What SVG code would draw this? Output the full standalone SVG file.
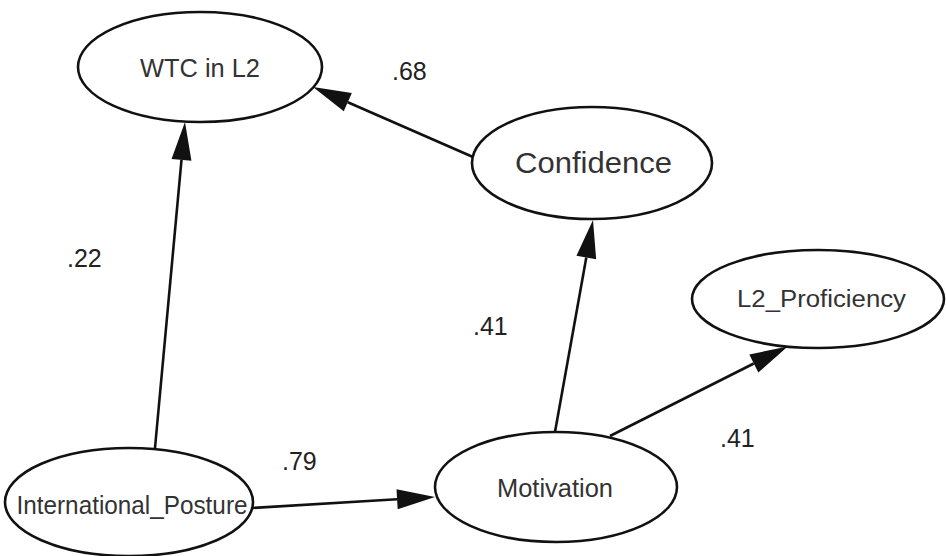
<svg xmlns="http://www.w3.org/2000/svg" width="946" height="556" viewBox="0 0 946 556">
  <style>
    .node ellipse { fill: #ffffff; stroke: #111111; stroke-width: 2.6; }
    .node text { font-family: "Liberation Sans", Arial, sans-serif; fill: #333333; text-anchor: middle; }
    .edge { stroke: #111111; stroke-width: 2.6; fill: none; marker-end: url(#head); }
    .coef { font-family: "Liberation Sans", Arial, sans-serif; font-size: 25px; fill: #222222; }
  </style>
  <defs>
    <marker id="head" viewBox="0 -10 38 20" refX="0" refY="0" markerWidth="38" markerHeight="20" markerUnits="userSpaceOnUse" orient="auto" overflow="visible">
      <path d="M0,-10 L38,0 L0,10 Z" fill="#111111"/>
    </marker>
  </defs>
  <rect width="946" height="556" fill="#ffffff"/>

  <!-- paths between the latent variables -->
  <g id="connectors">
    <path class="edge" d="M155,448 L181.5,159.8"/>
    <path class="edge" d="M473,157 L347.8,102.2"/>
    <path class="edge" d="M555,432 L586.3,257.4"/>
    <path class="edge" d="M610,436 L753.8,363.5"/>
    <path class="edge" d="M252,508 L397.1,499.3"/>
  </g>

  <g id="wtc" class="node">
    <ellipse cx="200" cy="67" rx="122" ry="55"/>
    <text x="200" y="77" font-size="26" textLength="120" lengthAdjust="spacingAndGlyphs">WTC in L2</text>
  </g>
  <g id="confidence" class="node">
    <ellipse cx="592" cy="163" rx="120" ry="56"/>
    <text x="593.5" y="173" font-size="30" textLength="157" lengthAdjust="spacingAndGlyphs">Confidence</text>
  </g>
  <g id="proficiency" class="node">
    <ellipse cx="818" cy="299" rx="126" ry="49"/>
    <text x="821.5" y="307" font-size="23" textLength="169" lengthAdjust="spacingAndGlyphs">L2_Proficiency</text>
  </g>
  <g id="motivation" class="node">
    <ellipse cx="556" cy="487" rx="121" ry="55"/>
    <text x="555" y="497" font-size="26" textLength="116" lengthAdjust="spacingAndGlyphs">Motivation</text>
  </g>
  <g id="posture" class="node">
    <ellipse cx="129" cy="502" rx="124" ry="54"/>
    <text x="132" y="514" font-size="26" textLength="231" lengthAdjust="spacingAndGlyphs">International_Posture</text>
  </g>

  <!-- path coefficients -->
  <g id="coefficients">
    <text class="coef" x="392" y="80">.68</text>
    <text class="coef" x="67" y="267">.22</text>
    <text class="coef" x="473" y="335">.41</text>
    <text class="coef" x="282" y="470">.79</text>
    <text class="coef" x="720" y="447">.41</text>
  </g>
</svg>
